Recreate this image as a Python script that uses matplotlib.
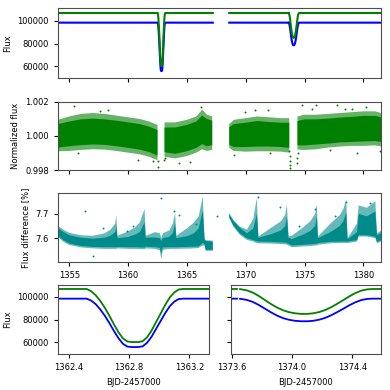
import numpy as np
import matplotlib
matplotlib.use('Agg')
import matplotlib.pyplot as plt
from matplotlib.ticker import FormatStrFormatter

nan = np.nan

# primary eclipse
t_prim = [1362.33, 1362.52, 1362.55, 1362.58, 1362.61, 1362.64, 1362.67, 1362.70,
          1362.73, 1362.76, 1362.79, 1362.82, 1362.86, 1362.89, 1362.92, 1362.95,
          1362.98, 1363.01, 1363.04, 1363.07, 1363.10, 1363.13, 1363.16, 1363.33]
green_prim = [107000, 107000, 105000, 101500, 96500, 90500, 83500, 76000,
              69000, 63500, 60800, 60300, 60300, 61000, 64500, 70500,
              78000, 85500, 93000, 99500, 104000, 106600, 107000, 107000]
blue_prim = [98500, 98500, 96800, 93600, 89000, 83500, 77100, 70200,
             63800, 58800, 56300, 55900, 55900, 56500, 59700, 65100,
             72000, 78900, 85800, 91800, 95900, 98200, 98500, 98500]

# secondary eclipse
t_sec = [1373.595, 1373.635, 1373.645, 1373.655, 1373.70, 1373.74, 1373.78, 1373.82,
         1373.86, 1373.90, 1373.94, 1373.98, 1374.02, 1374.06, 1374.10, 1374.14,
         1374.18, 1374.22, 1374.26, 1374.30, 1374.34, 1374.38, 1374.42, 1374.46,
         1374.50, 1374.54, 1374.59]
green_sec = [107000, 107000, nan, 106900, 105800, 103800, 100800, 97300,
             93800, 90700, 88300, 86600, 85600, 85100, 85100, 85600,
             86700, 88500, 91000, 94000, 97200, 100500, 103400, 105600,
             106700, 107000, 107000]
blue_sec = [98500, 98500, nan, 98400, 97400, 95600, 92900, 89700,
            86500, 83600, 81400, 79900, 79000, 78600, 78600, 79000,
            80000, 81600, 83900, 86700, 89600, 92700, 95300, 97300,
            98300, 98500, 98500]

# out-of-eclipse pieces of the full light curve
t_out_a = [1354.05, 1362.33]
t_out_b = [1363.33, 1367.2, nan, 1368.6, 1373.595]
t_out_c = [1374.59, 1381.5]
green_base = 107000
blue_base = 98500

# normalized flux band: time, outer low/high, core low/high
t_norm = [1354.05, 1355.0, 1356.0, 1357.0, 1358.0, 1359.0, 1360.0, 1361.0, 1361.8, 1362.5, nan,
          1363.1, 1364.0, 1365.0, 1365.8, 1366.3, 1366.7, 1367.15, nan,
          1368.6, 1369.0, 1370.0, 1371.0, 1372.0, 1373.0, 1373.7, nan,
          1374.4, 1375.0, 1376.0, 1377.0, 1378.0, 1379.0, 1380.0, 1381.0, 1381.5]
norm_lo = [0.99910, 0.99912, 0.99918, 0.99922, 0.99920, 0.99912, 0.99902, 0.99892, 0.99878, 0.99858, nan,
           0.99878, 0.99868, 0.99882, 0.99902, 0.99922, 0.99912, 0.99918, nan,
           0.99930, 0.99912, 0.99908, 0.99910, 0.99910, 0.99908, 0.99902, nan,
           0.99920, 0.99918, 0.99922, 0.99932, 0.99938, 0.99942, 0.99942, 0.99945, 0.99938]
norm_hi = [1.00095, 1.00115, 1.00130, 1.00135, 1.00130, 1.00120, 1.00110, 1.00100, 1.00085, 1.00065, nan,
           1.00080, 1.00080, 1.00095, 1.00115, 1.00155, 1.00125, 1.00115, nan,
           1.00070, 1.00095, 1.00105, 1.00115, 1.00110, 1.00105, 1.00105, nan,
           1.00115, 1.00125, 1.00125, 1.00130, 1.00135, 1.00140, 1.00145, 1.00145, 1.00135]
norm_core_lo = [0.99932, 0.99940, 0.99946, 0.99950, 0.99948, 0.99940, 0.99930, 0.99920, 0.99905, 0.99885, nan,
                0.99905, 0.99895, 0.99910, 0.99930, 0.99952, 0.99940, 0.99945, nan,
                0.99948, 0.99935, 0.99935, 0.99938, 0.99938, 0.99935, 0.99930, nan,
                0.99945, 0.99945, 0.99950, 0.99955, 0.99962, 0.99965, 0.99968, 0.99970, 0.99965]
norm_core_hi = [1.00070, 1.00085, 1.00098, 1.00102, 1.00098, 1.00090, 1.00080, 1.00070, 1.00055, 1.00035, nan,
                1.00050, 1.00050, 1.00065, 1.00085, 1.00120, 1.00100, 1.00090, nan,
                1.00052, 1.00070, 1.00078, 1.00088, 1.00082, 1.00078, 1.00078, nan,
                1.00088, 1.00098, 1.00098, 1.00102, 1.00108, 1.00112, 1.00118, 1.00118, 1.00110]
# stray points in the normalized flux
t_norm_pts = [1355.4, 1358.3, 1366.2, 1370.8, 1371.9, 1374.8, 1376.0, 1377.8, 1378.4, 1380.2,
              1379.0, 1375.6, 1355.7, 1360.8, 1364.3, 1369.0, 1372.1, 1379.5, 1381.4, 1362.1,
              1362.56, 1362.58, 1363.05, 1363.1, 1357.6, 1365.3, 1369.9, 1377.2,
              1373.72, 1373.73, 1373.74, 1373.75, 1373.76, 1373.765,
              1374.38, 1374.40, 1374.42]
norm_pts = [1.00175, 1.0015, 1.0017, 1.00155, 1.0015, 1.00185, 1.0018, 1.0018, 1.0016, 1.0017,
            1.0016, 1.0016, 0.9990, 0.9986, 0.9984, 0.9989, 0.9990, 0.9990, 0.9991, 0.9985,
            0.9985, 0.99815, 0.9986, 0.9987, 1.00145, 0.99845, 1.0014, 0.99915,
            0.9991, 0.9988, 0.9985, 0.9983, 0.9981, 0.9979,
            0.9984, 0.9987, 0.9990]

# flux difference band [%]
t_diff = [1354.05, 1354.5, 1355.0, 1356.0, 1357.0, 1358.0, 1358.5, 1358.9, 1359.0, 1359.1, 1360.0, 1360.6, 1361.0,
          1361.4, 1361.5, 1362.3, 1362.7, 1362.82, 1362.95, 1363.5, 1363.8, 1364.0, 1364.1, 1365.0, 1365.6,
          1366.0, 1366.35, 1366.5, 1366.6, 1367.2, nan,
          1368.6, 1368.95, 1369.5, 1370.1, 1370.65, 1370.94, 1371.08, 1372.07, 1373.0, 1373.35, 1373.5,
          1373.64, 1373.92, 1374.9, 1375.5, 1375.9, 1376.05, 1376.14, 1377.2, 1378.0, 1378.3, 1378.55, 1378.66,
          1379.46, 1379.6, 1380.3, 1381.02, 1381.16, 1381.5]
diff_lo = [7.605, 7.585, 7.572, 7.562, 7.558, 7.556, 7.556, 7.556, 7.556, 7.558, 7.556, 7.556, 7.555,
           7.555, 7.558, 7.556, 7.550, 7.512, 7.552, 7.556, 7.556, 7.556, 7.556, 7.557, 7.558,
           7.560, 7.570, 7.570, 7.548, 7.548, nan,
           7.682, 7.648, 7.614, 7.593, 7.586, 7.580, 7.579, 7.578, 7.576, 7.575, 7.573,
           7.570, 7.563, 7.566, 7.568, 7.570, 7.570, 7.573, 7.579, 7.580, 7.580, 7.580, 7.580,
           7.586, 7.607, 7.607, 7.600, 7.579, 7.586]
diff_hi = [7.650, 7.635, 7.622, 7.612, 7.610, 7.620, 7.635, 7.660, 7.695, 7.610, 7.628, 7.645, 7.665,
           7.720, 7.610, 7.625, 7.620, 7.600, 7.620, 7.632, 7.660, 7.705, 7.610, 7.640, 7.665,
           7.690, 7.772, 7.600, 7.592, 7.590, nan,
           7.703, 7.675, 7.648, 7.635, 7.680, 7.766, 7.607, 7.640, 7.670, 7.695, 7.740,
           7.607, 7.610, 7.645, 7.670, 7.700, 7.740, 7.607, 7.660, 7.695, 7.720, 7.760, 7.600,
           7.660, 7.735, 7.725, 7.752, 7.621, 7.630]
diff_core_lo = [7.610, 7.592, 7.578, 7.568, 7.564, 7.563, 7.563, 7.563, 7.563, 7.564, 7.563, 7.563, 7.562,
                7.562, 7.565, 7.563, 7.560, 7.535, 7.562, 7.563, 7.563, 7.563, 7.563, 7.564, 7.565,
                7.566, 7.580, 7.575, 7.552, 7.552, nan,
                7.686, 7.652, 7.620, 7.600, 7.592, 7.587, 7.586, 7.585, 7.583, 7.582, 7.580,
                7.577, 7.570, 7.573, 7.575, 7.577, 7.577, 7.580, 7.585, 7.586, 7.586, 7.586, 7.586,
                7.592, 7.612, 7.612, 7.606, 7.585, 7.592]
diff_core_hi = [7.642, 7.626, 7.612, 7.602, 7.598, 7.602, 7.610, 7.625, 7.650, 7.600, 7.605, 7.615, 7.625,
                7.665, 7.602, 7.603, 7.600, 7.588, 7.600, 7.606, 7.620, 7.660, 7.600, 7.608, 7.620,
                7.640, 7.715, 7.596, 7.588, 7.586, nan,
                7.699, 7.671, 7.643, 7.620, 7.640, 7.700, 7.602, 7.615, 7.632, 7.650, 7.690,
                7.602, 7.596, 7.615, 7.630, 7.650, 7.690, 7.600, 7.625, 7.650, 7.670, 7.705, 7.596,
                7.625, 7.700, 7.690, 7.710, 7.612, 7.620]
t_diff_pts = [1356.3, 1362.8, 1364.3, 1357.0, 1365.8, 1371.05, 1375.85, 1378.55, 1380.6, 1363.9,
              1372.9, 1359.9, 1357.9, 1360.4, 1367.6, 1374.5, 1377.6]
diff_pts = [7.710, 7.765, 7.695, 7.525, 7.660, 7.770, 7.720, 7.750, 7.745, 7.710,
            7.730, 7.630, 7.640, 7.650, 7.690, 7.650, 7.690]

GREEN = '#008000'
BLUE = '#0000ff'
TEAL = '#008b8b'

plt.rcParams['font.size'] = 6
plt.rcParams['axes.linewidth'] = 0.8
plt.rcParams['axes.edgecolor'] = '0.3'
plt.rcParams['xtick.major.size'] = 3
plt.rcParams['ytick.major.size'] = 3

fig = plt.figure(figsize=(3.9, 3.9), dpi=100)
ax1 = fig.add_axes([0.1487, 0.800, 0.8282, 0.1795])
ax2 = fig.add_axes([0.1487, 0.5641, 0.8282, 0.1744])
ax3 = fig.add_axes([0.1487, 0.3282, 0.8282, 0.1769])
ax4 = fig.add_axes([0.1487, 0.0923, 0.3872, 0.1769])
ax5 = fig.add_axes([0.5923, 0.0923, 0.3846, 0.1769])

# full light curve
t_full = np.concatenate([t_out_a, t_prim, t_out_b, t_sec, t_out_c])
def full(base, prim, sec):
    b = [base if not np.isnan(v) else nan for v in t_out_b]
    return np.concatenate([[base, base], prim, b, sec, [base, base]])
g_full = full(green_base, green_prim, green_sec)
b_full = full(blue_base, blue_prim, blue_sec)
ax1.plot(t_full, b_full, color=BLUE, lw=1.5)
ax1.plot(t_full, g_full, color=GREEN, lw=1.5)
ax1.set_ylim(49800, 111400)
ax1.set_yticks([60000, 80000, 100000])
ax1.set_ylabel('Flux')

ax2.fill_between(t_norm, norm_lo, norm_hi, color=GREEN, alpha=0.6, lw=0)
ax2.fill_between(t_norm, norm_core_lo, norm_core_hi, color=GREEN, lw=0)
ax2.scatter(t_norm_pts, norm_pts, s=2, color=GREEN, lw=0)
ax2.set_ylim(0.998, 1.002)
ax2.set_yticks([0.998, 1.000, 1.002])
ax2.yaxis.set_major_formatter(FormatStrFormatter('%.3f'))
ax2.set_ylabel('Normalized flux')

ax3.fill_between(t_diff, diff_lo, diff_hi, color=TEAL, alpha=0.6, lw=0)
ax3.fill_between(t_diff, diff_core_lo, diff_core_hi, color=TEAL, lw=0)
ax3.scatter(t_diff_pts, diff_pts, s=2, color=TEAL, lw=0)
ax3.set_ylim(7.502, 7.786)
ax3.set_yticks([7.6, 7.7])
ax3.set_ylabel('Flux difference [%]')

for ax in (ax1, ax2, ax3):
    ax.set_xlim(1354.04, 1381.5)
    ax.set_xticks([1355, 1360, 1365, 1370, 1375, 1380])
ax1.tick_params(labelbottom=False)
ax2.tick_params(labelbottom=False)

ax4.plot(t_prim, blue_prim, color=BLUE, lw=1.3)
ax4.plot(t_prim, green_prim, color=GREEN, lw=1.3)
ax4.set_xlim(1362.33, 1363.33)
ax4.set_xticks([1362.4, 1362.8, 1363.2])
ax4.set_ylabel('Flux')

ax5.plot(t_sec, blue_sec, color=BLUE, lw=1.3)
ax5.plot(t_sec, green_sec, color=GREEN, lw=1.3)
ax5.set_xlim(1373.595, 1374.59)
ax5.set_xticks([1373.6, 1374.0, 1374.4])
ax5.tick_params(labelleft=False)

for ax in (ax4, ax5):
    ax.set_ylim(49800, 110500)
    ax.set_yticks([60000, 80000, 100000])
    ax.xaxis.set_major_formatter(FormatStrFormatter('%.1f'))
    ax.set_xlabel('BJD-2457000')

fig.savefig('out.png', dpi=100)
